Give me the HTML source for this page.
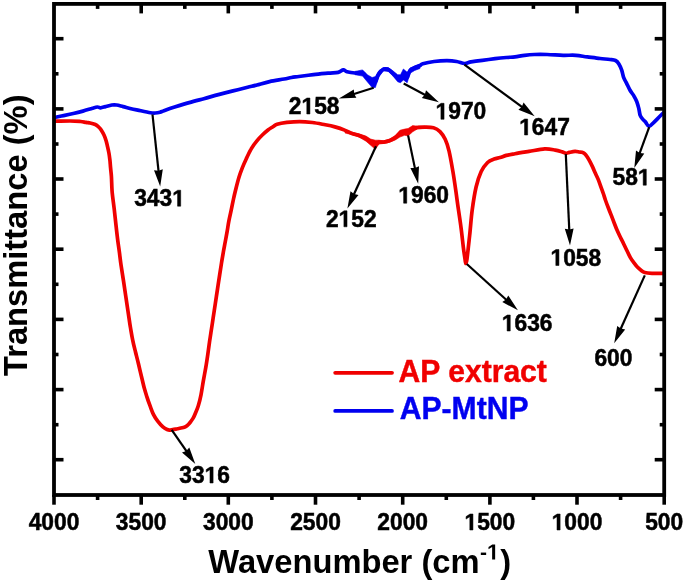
<!DOCTYPE html>
<html><head><meta charset="utf-8"><style>
html,body{margin:0;padding:0;background:#fff;}
svg{display:block;will-change:transform;}
text{font-family:"Liberation Sans",sans-serif;font-weight:bold;}
.t{font-size:22.8px;fill:#000;stroke:#000;stroke-width:0.5px;}
.lg{font-size:28.8px;}
.ax{font-size:32.7px;fill:#000;}
.sup{font-size:21px;}
</style></head><body>
<svg width="685" height="583" viewBox="0 0 685 583">
<rect x="0" y="0" width="685" height="583" fill="#fff"/>
<path d="M54.0,121.2 C56.7,121.2 65.6,121.0 70.0,121.0 C74.4,121.0 77.9,121.3 80.6,121.5 C83.3,121.7 84.5,122.2 86.1,122.4 C87.7,122.7 88.6,122.7 90.1,123.0 C91.6,123.3 93.9,123.9 95.3,124.5 C96.7,125.1 97.4,125.8 98.4,126.8 C99.4,127.8 100.6,129.0 101.5,130.4 C102.4,131.8 103.2,133.3 104.0,135.0 C104.8,136.7 105.5,138.7 106.1,140.7 C106.7,142.7 107.1,144.8 107.6,146.9 C108.1,149.0 108.6,151.3 109.0,153.5 C109.4,155.7 109.6,157.6 109.9,160.0 C110.2,162.4 110.3,165.3 110.6,168.0 C110.8,170.7 111.1,172.2 111.4,176.3 C111.7,180.4 111.7,187.2 112.2,192.6 C112.7,198.0 113.6,203.5 114.2,208.9 C114.8,214.3 115.4,219.8 116.0,225.2 C116.6,230.6 117.3,236.9 117.9,241.5 C118.5,246.1 119.0,249.0 119.5,253.0 C120.0,257.0 120.4,260.9 121.1,265.5 C121.8,270.1 122.7,275.8 123.5,280.9 C124.3,286.0 125.0,291.2 125.8,296.4 C126.6,301.6 127.3,306.8 128.1,311.9 C128.9,317.0 129.6,322.6 130.4,327.3 C131.2,332.0 131.8,336.0 132.7,340.1 C133.5,344.2 134.5,348.0 135.5,352.0 C136.5,356.0 137.4,359.3 138.5,364.0 C139.6,368.7 141.3,375.9 142.3,380.0 C143.3,384.1 143.6,385.8 144.4,388.6 C145.2,391.5 146.1,394.2 147.0,397.1 C147.9,400.0 148.9,402.8 150.0,405.7 C151.1,408.6 152.1,411.7 153.4,414.3 C154.7,416.9 156.1,419.0 157.7,421.1 C159.3,423.2 161.3,425.5 162.9,426.9 C164.5,428.3 166.0,429.0 167.1,429.5 C168.2,430.0 168.6,430.1 169.5,430.1 C170.4,430.1 171.5,429.8 172.8,429.6 C174.1,429.4 175.9,429.0 177.5,428.7 C179.1,428.4 180.8,428.1 182.2,427.8 C183.6,427.5 184.6,427.3 185.7,426.7 C186.8,426.1 187.7,425.2 188.6,424.3 C189.5,423.4 190.1,422.5 190.9,421.4 C191.7,420.3 192.5,419.3 193.3,417.9 C194.1,416.5 194.7,415.0 195.5,413.0 C196.3,411.0 197.4,408.8 198.3,405.8 C199.2,402.8 200.2,398.9 201.0,394.8 C201.8,390.7 202.5,385.7 203.3,381.1 C204.1,376.5 205.0,372.0 205.8,367.4 C206.6,362.8 207.3,357.9 207.9,353.7 C208.5,349.5 209.0,345.5 209.5,342.0 C210.0,338.5 210.3,336.8 210.9,332.8 C211.5,328.9 212.4,323.2 213.1,318.3 C213.8,313.4 214.6,308.6 215.3,303.7 C216.0,298.8 216.8,294.0 217.5,289.1 C218.2,284.2 219.0,279.0 219.7,274.6 C220.4,270.2 220.9,266.8 221.5,263.0 C222.1,259.2 222.8,255.4 223.4,251.8 C224.0,248.2 224.7,244.9 225.3,241.5 C225.9,238.1 226.6,234.6 227.2,231.2 C227.8,227.8 228.2,224.3 228.9,220.9 C229.6,217.5 230.3,214.2 231.1,210.6 C231.9,206.9 232.7,202.8 233.5,199.0 C234.3,195.2 235.2,191.6 236.1,188.0 C237.0,184.4 237.9,180.8 238.9,177.5 C239.9,174.2 241.1,171.0 242.3,167.9 C243.5,164.8 244.7,162.2 246.2,159.0 C247.7,155.8 249.4,151.9 251.2,148.9 C252.9,145.9 254.8,143.4 256.7,141.1 C258.6,138.8 260.4,136.8 262.3,135.0 C264.2,133.2 266.2,131.4 268.0,130.0 C269.8,128.6 271.8,127.5 273.3,126.5 C274.8,125.5 274.9,125.0 277.1,124.3 C279.4,123.6 283.1,122.9 286.8,122.4 C290.6,122.0 295.3,121.6 299.6,121.6 C303.9,121.6 308.1,122.0 312.4,122.5 C316.7,123.0 321.6,124.1 325.3,124.8 C329.1,125.5 331.7,126.0 334.9,126.9 C338.1,127.8 341.8,129.0 344.6,130.1 C347.5,131.2 349.6,132.5 352.0,133.4 C354.4,134.3 356.7,134.6 359.0,135.5 C361.3,136.4 364.1,137.5 366.0,138.6 C367.9,139.7 369.1,141.2 370.7,142.2 C372.3,143.2 374.0,144.7 375.4,144.7 C376.8,144.7 377.5,142.5 378.9,142.1 C380.2,141.7 381.8,142.3 383.5,142.1 C385.2,141.9 387.4,141.4 389.4,140.7 C391.3,140.0 393.4,139.0 395.2,137.8 C396.9,136.6 398.3,134.6 399.9,133.7 C401.5,132.8 403.2,132.4 404.6,132.2 C406.0,131.9 406.8,132.8 408.1,132.2 C409.5,131.6 411.1,129.5 412.7,128.7 C414.2,127.9 415.3,127.8 417.4,127.5 C419.4,127.2 422.3,127.2 425.0,127.2 C427.7,127.2 431.0,127.1 433.5,127.8 C436.0,128.5 438.1,129.7 440.0,131.6 C441.9,133.5 443.7,136.1 445.2,139.3 C446.7,142.5 447.7,145.5 449.0,150.9 C450.3,156.3 451.7,164.6 452.9,171.5 C454.1,178.4 455.1,185.7 456.0,192.1 C456.9,198.5 457.6,204.1 458.5,210.1 C459.4,216.1 460.3,222.2 461.1,228.2 C461.9,234.2 462.6,241.1 463.2,246.2 C463.8,251.3 464.6,256.1 465.0,259.0 C465.4,261.9 465.5,263.5 465.8,263.5 C466.1,263.5 466.4,263.6 467.0,259.0 C467.6,254.4 468.7,244.1 469.6,235.9 C470.5,227.8 471.1,218.2 472.2,210.1 C473.3,201.9 474.6,193.4 476.1,187.0 C477.6,180.6 479.3,175.6 481.2,171.5 C483.1,167.4 485.5,164.6 487.6,162.5 C489.8,160.4 492.0,159.9 494.1,159.1 C496.2,158.3 498.0,158.2 500.0,157.6 C502.0,157.0 503.8,156.1 506.3,155.4 C508.8,154.8 511.2,154.4 515.0,153.7 C518.8,153.0 524.0,152.2 529.0,151.4 C534.0,150.6 540.4,149.1 544.8,148.9 C549.2,148.7 552.4,149.6 555.3,150.1 C558.2,150.6 560.5,151.4 562.3,151.9 C564.0,152.4 564.6,153.2 565.8,153.3 C567.0,153.4 567.8,152.7 569.3,152.4 C570.8,152.1 573.4,151.5 575.0,151.4 C576.6,151.3 578.0,151.8 579.1,152.0 C580.2,152.2 580.9,152.0 581.8,152.3 C582.7,152.6 583.7,152.9 584.6,153.7 C585.5,154.5 586.4,155.7 587.3,157.1 C588.2,158.5 589.2,160.2 590.1,161.9 C591.0,163.6 591.9,165.5 592.8,167.4 C593.7,169.3 594.6,171.6 595.5,173.6 C596.4,175.6 597.4,177.4 598.3,179.7 C599.2,182.0 600.2,184.9 601.0,187.2 C601.8,189.5 602.6,191.4 603.3,193.5 C604.0,195.6 604.6,197.7 605.4,200.0 C606.2,202.3 607.2,205.0 608.2,207.5 C609.2,210.0 610.1,212.4 611.1,214.9 C612.1,217.4 613.0,220.0 614.0,222.5 C615.0,225.0 615.9,227.5 617.0,230.0 C618.1,232.5 619.4,235.2 620.5,237.5 C621.6,239.8 622.6,241.6 623.6,243.7 C624.6,245.8 625.5,247.7 626.6,250.0 C627.7,252.3 629.2,255.5 630.4,257.6 C631.6,259.7 632.8,261.2 634.0,262.8 C635.2,264.4 636.4,266.1 637.6,267.3 C638.8,268.6 639.8,269.4 641.0,270.3 C642.2,271.2 643.0,272.0 644.8,272.5 C646.6,273.0 648.8,273.2 652.0,273.3 C655.2,273.4 662.0,273.3 664.0,273.3" fill="none" stroke="#f00000" stroke-width="3.7" stroke-linejoin="round" stroke-linecap="butt"/>
<path d="M54.0,117.5 C54.3,117.5 54.0,117.5 55.6,117.2 C57.2,116.9 60.7,116.2 63.6,115.6 C66.5,115.0 70.1,114.2 73.3,113.5 C76.5,112.8 79.7,112.0 82.9,111.1 C86.1,110.2 90.1,108.9 92.5,108.2 C94.9,107.5 96.1,107.1 97.4,107.0 C98.8,106.9 99.3,107.9 100.6,107.8 C101.9,107.7 103.5,107.1 105.4,106.6 C107.3,106.1 109.9,105.3 111.8,105.0 C113.7,104.7 114.7,104.7 116.6,105.0 C118.5,105.3 120.7,106.0 123.1,106.6 C125.5,107.2 128.2,108.0 131.1,108.7 C134.0,109.4 137.5,110.0 140.7,110.7 C143.9,111.4 148.0,112.3 150.4,112.7 C152.8,113.1 153.6,113.1 155.2,113.0 C156.8,112.9 158.5,112.6 160.0,112.2 C161.5,111.8 161.6,111.6 164.0,110.7 C166.4,109.8 170.4,108.3 174.6,107.0 C178.8,105.7 184.3,104.0 189.2,102.6 C194.1,101.2 198.9,100.0 203.8,98.7 C208.7,97.4 213.5,95.9 218.4,94.6 C223.3,93.3 228.1,92.1 233.0,90.9 C237.9,89.7 243.6,88.3 247.6,87.3 C251.6,86.3 253.3,86.0 257.0,85.0 C260.7,84.0 265.1,82.6 269.6,81.6 C274.1,80.6 280.6,79.7 284.2,79.0 C287.8,78.3 289.1,77.9 291.5,77.5 C293.9,77.1 295.2,77.0 298.8,76.5 C302.4,76.0 308.5,75.2 313.4,74.6 C318.3,74.0 323.9,73.5 328.0,73.1 C332.1,72.7 335.6,72.9 338.2,72.4 C340.8,71.9 341.8,70.0 343.3,69.9 C344.8,69.8 345.1,71.2 347.0,71.7 C348.9,72.2 352.4,72.8 355.0,73.0 C357.6,73.2 360.6,72.1 362.6,73.0 C364.7,73.9 365.7,76.6 367.3,78.2 C368.9,79.8 370.8,81.9 372.1,82.5 C373.5,83.1 374.3,83.4 375.4,82.0 C376.5,80.6 377.3,76.1 378.7,74.0 C380.1,71.9 381.9,70.0 383.5,69.2 C385.1,68.5 386.6,68.8 388.2,69.5 C389.8,70.2 391.4,72.0 393.0,73.5 C394.6,75.0 396.4,77.3 397.7,78.2 C398.9,79.1 399.6,79.3 400.5,78.7 C401.4,78.1 402.3,74.7 403.4,74.5 C404.5,74.3 406.1,78.2 407.2,77.5 C408.3,76.8 408.7,72.3 410.0,70.6 C411.3,68.9 413.1,68.3 414.8,67.5 C416.5,66.7 418.7,66.1 420.0,65.5 C421.3,64.9 420.4,64.5 422.8,63.8 C425.2,63.1 430.1,62.0 434.1,61.5 C438.1,61.0 443.1,60.7 446.9,60.7 C450.6,60.7 453.7,61.0 456.6,61.5 C459.6,62.0 462.2,63.4 464.6,63.5 C467.0,63.6 468.1,62.4 471.0,61.9 C473.9,61.4 478.3,60.8 482.3,60.3 C486.3,59.8 491.1,59.2 495.1,58.7 C499.1,58.2 503.1,57.8 506.4,57.5 C509.7,57.2 512.0,57.3 515.0,56.9 C518.0,56.5 521.4,55.7 524.6,55.3 C527.8,54.9 530.5,54.6 534.3,54.5 C538.0,54.4 542.3,54.4 547.1,54.5 C551.9,54.6 558.4,55.2 563.2,55.3 C568.0,55.4 572.0,55.0 576.0,55.3 C580.0,55.6 583.3,56.4 587.3,56.9 C591.3,57.4 596.3,58.1 600.1,58.5 C603.9,58.9 607.4,59.2 610.0,59.5 C612.6,59.8 614.0,59.8 615.5,60.5 C617.0,61.2 617.9,62.3 618.9,63.9 C619.9,65.5 620.9,67.8 621.7,70.1 C622.5,72.4 622.9,75.5 623.7,77.7 C624.5,79.9 625.5,81.0 626.5,83.1 C627.5,85.1 628.6,87.8 629.9,90.0 C631.1,92.2 632.9,94.2 634.0,96.2 C635.1,98.2 636.0,99.7 636.8,101.7 C637.6,103.8 638.2,106.2 638.8,108.5 C639.4,110.8 639.5,113.6 640.2,115.4 C640.9,117.2 642.1,118.3 643.0,119.5 C643.9,120.7 644.7,121.1 645.7,122.3 C646.7,123.5 647.7,126.4 649.1,126.4 C650.5,126.4 652.2,123.9 653.9,122.3 C655.6,120.7 657.7,118.5 659.4,116.8 C661.1,115.1 663.2,113.0 664.0,112.2" fill="none" stroke="#0000f0" stroke-width="3.7" stroke-linejoin="round" stroke-linecap="butt"/>
<polygon points="355.0,71.4 362.6,69.9 367.3,74.7 372.1,77.5 375.4,76.6 378.7,70.9 383.5,67.6 388.2,67.6 393.0,70.9 397.7,74.7 400.5,74.7 403.4,69.0 407.2,72.3 410.0,68.0 414.8,66.1 420.0,64.2 420.0,68.5 414.8,70.4 410.0,73.3 407.2,82.8 403.4,79.9 400.5,82.8 397.7,81.8 393.0,76.1 388.2,71.4 383.5,70.9 378.7,77.1 375.4,87.5 372.1,87.5 367.3,81.8 362.6,76.1 355.0,74.7" fill="#0000f0" stroke="#0000f0" stroke-width="0.6" stroke-linejoin="round"/>
<polygon points="345.0,130.9 352.0,132.1 359.0,133.8 366.0,136.1 370.7,139.1 375.4,140.2 378.9,140.2 383.5,140.8 389.4,139.1 395.2,135.6 399.9,130.3 404.6,129.1 408.1,128.5 412.7,125.6 417.4,126.2 425.0,126.2 425.0,128.3 417.4,128.9 412.7,131.8 408.1,135.9 404.6,135.3 399.9,137.1 395.2,140.0 389.4,142.3 383.5,143.5 378.9,144.1 375.4,149.3 370.7,145.3 366.0,141.2 359.0,137.1 352.0,134.7 345.0,133.0" fill="#f00000" stroke="#f00000" stroke-width="0.6" stroke-linejoin="round"/>
<line x1="152.5" y1="114.5" x2="158.6" y2="171.7" stroke="#000" stroke-width="2.2"/><polygon points="160.2,186.6 154.0,170.2 158.5,170.7 162.8,169.2" fill="#000"/>
<line x1="171.7" y1="429.8" x2="186.8" y2="451.7" stroke="#000" stroke-width="2.2"/><polygon points="195.3,464.1 182.0,452.6 186.2,450.9 189.3,447.6" fill="#000"/>
<line x1="373.7" y1="87.8" x2="353.2" y2="94.2" stroke="#000" stroke-width="2.2"/><polygon points="338.9,98.6 353.8,89.4 354.2,93.9 356.4,97.8" fill="#000"/>
<line x1="376.0" y1="146.2" x2="353.6" y2="195.0" stroke="#000" stroke-width="2.2"/><polygon points="347.4,208.6 350.5,191.3 354.1,194.1 358.5,195.0" fill="#000"/>
<line x1="403.7" y1="83.5" x2="425.7" y2="95.2" stroke="#000" stroke-width="2.2"/><polygon points="438.9,102.2 421.8,98.1 424.8,94.7 426.0,90.3" fill="#000"/>
<line x1="408.1" y1="135.4" x2="415.1" y2="169.1" stroke="#000" stroke-width="2.2"/><polygon points="418.2,183.8 410.4,168.1 414.9,168.1 419.0,166.3" fill="#000"/>
<line x1="464.4" y1="64.6" x2="522.6" y2="107.3" stroke="#000" stroke-width="2.2"/><polygon points="534.7,116.2 518.4,109.7 521.8,106.7 523.6,102.6" fill="#000"/>
<line x1="466.8" y1="264.0" x2="506.8" y2="300.2" stroke="#000" stroke-width="2.2"/><polygon points="517.9,310.3 502.3,302.1 506.0,299.6 508.3,295.6" fill="#000"/>
<line x1="565.8" y1="154.1" x2="569.3" y2="230.6" stroke="#000" stroke-width="2.2"/><polygon points="570.0,245.6 564.8,228.8 569.3,229.6 573.6,228.4" fill="#000"/>
<line x1="649.2" y1="127.1" x2="639.4" y2="153.8" stroke="#000" stroke-width="2.2"/><polygon points="634.3,167.9 636.0,150.4 639.8,152.9 644.3,153.4" fill="#000"/>
<line x1="644.8" y1="275.4" x2="620.4" y2="329.5" stroke="#000" stroke-width="2.2"/><polygon points="614.2,343.2 617.2,325.9 620.8,328.6 625.2,329.5" fill="#000"/>
<rect x="54" y="3.9" width="610.2" height="491.1" fill="none" stroke="#000" stroke-width="3.8"/>
<line x1="54" y1="38.7" x2="63.5" y2="38.7" stroke="#000" stroke-width="3.6"/>
<line x1="664.2" y1="38.7" x2="654.7" y2="38.7" stroke="#000" stroke-width="3.6"/>
<line x1="54" y1="108.9" x2="63.5" y2="108.9" stroke="#000" stroke-width="3.6"/>
<line x1="664.2" y1="108.9" x2="654.7" y2="108.9" stroke="#000" stroke-width="3.6"/>
<line x1="54" y1="179.0" x2="63.5" y2="179.0" stroke="#000" stroke-width="3.6"/>
<line x1="664.2" y1="179.0" x2="654.7" y2="179.0" stroke="#000" stroke-width="3.6"/>
<line x1="54" y1="249.2" x2="63.5" y2="249.2" stroke="#000" stroke-width="3.6"/>
<line x1="664.2" y1="249.2" x2="654.7" y2="249.2" stroke="#000" stroke-width="3.6"/>
<line x1="54" y1="319.4" x2="63.5" y2="319.4" stroke="#000" stroke-width="3.6"/>
<line x1="664.2" y1="319.4" x2="654.7" y2="319.4" stroke="#000" stroke-width="3.6"/>
<line x1="54" y1="389.6" x2="63.5" y2="389.6" stroke="#000" stroke-width="3.6"/>
<line x1="664.2" y1="389.6" x2="654.7" y2="389.6" stroke="#000" stroke-width="3.6"/>
<line x1="54" y1="459.7" x2="63.5" y2="459.7" stroke="#000" stroke-width="3.6"/>
<line x1="664.2" y1="459.7" x2="654.7" y2="459.7" stroke="#000" stroke-width="3.6"/>
<line x1="54" y1="73.8" x2="58.5" y2="73.8" stroke="#000" stroke-width="3.6"/>
<line x1="664.2" y1="73.8" x2="659.7" y2="73.8" stroke="#000" stroke-width="3.6"/>
<line x1="54" y1="144.0" x2="58.5" y2="144.0" stroke="#000" stroke-width="3.6"/>
<line x1="664.2" y1="144.0" x2="659.7" y2="144.0" stroke="#000" stroke-width="3.6"/>
<line x1="54" y1="214.1" x2="58.5" y2="214.1" stroke="#000" stroke-width="3.6"/>
<line x1="664.2" y1="214.1" x2="659.7" y2="214.1" stroke="#000" stroke-width="3.6"/>
<line x1="54" y1="284.3" x2="58.5" y2="284.3" stroke="#000" stroke-width="3.6"/>
<line x1="664.2" y1="284.3" x2="659.7" y2="284.3" stroke="#000" stroke-width="3.6"/>
<line x1="54" y1="354.5" x2="58.5" y2="354.5" stroke="#000" stroke-width="3.6"/>
<line x1="664.2" y1="354.5" x2="659.7" y2="354.5" stroke="#000" stroke-width="3.6"/>
<line x1="54" y1="424.7" x2="58.5" y2="424.7" stroke="#000" stroke-width="3.6"/>
<line x1="664.2" y1="424.7" x2="659.7" y2="424.7" stroke="#000" stroke-width="3.6"/>
<line x1="54.0" y1="495" x2="54.0" y2="504.7" stroke="#000" stroke-width="3.6"/>
<line x1="141.2" y1="495" x2="141.2" y2="504.7" stroke="#000" stroke-width="3.6"/>
<line x1="141.2" y1="3.9" x2="141.2" y2="13.4" stroke="#000" stroke-width="3.6"/>
<line x1="228.3" y1="495" x2="228.3" y2="504.7" stroke="#000" stroke-width="3.6"/>
<line x1="228.3" y1="3.9" x2="228.3" y2="13.4" stroke="#000" stroke-width="3.6"/>
<line x1="315.5" y1="495" x2="315.5" y2="504.7" stroke="#000" stroke-width="3.6"/>
<line x1="315.5" y1="3.9" x2="315.5" y2="13.4" stroke="#000" stroke-width="3.6"/>
<line x1="402.7" y1="495" x2="402.7" y2="504.7" stroke="#000" stroke-width="3.6"/>
<line x1="402.7" y1="3.9" x2="402.7" y2="13.4" stroke="#000" stroke-width="3.6"/>
<line x1="489.9" y1="495" x2="489.9" y2="504.7" stroke="#000" stroke-width="3.6"/>
<line x1="489.9" y1="3.9" x2="489.9" y2="13.4" stroke="#000" stroke-width="3.6"/>
<line x1="577.0" y1="495" x2="577.0" y2="504.7" stroke="#000" stroke-width="3.6"/>
<line x1="577.0" y1="3.9" x2="577.0" y2="13.4" stroke="#000" stroke-width="3.6"/>
<line x1="664.2" y1="495" x2="664.2" y2="504.7" stroke="#000" stroke-width="3.6"/>
<line x1="97.6" y1="495" x2="97.6" y2="500" stroke="#000" stroke-width="3.6"/>
<line x1="97.6" y1="3.9" x2="97.6" y2="8.9" stroke="#000" stroke-width="3.6"/>
<line x1="184.8" y1="495" x2="184.8" y2="500" stroke="#000" stroke-width="3.6"/>
<line x1="184.8" y1="3.9" x2="184.8" y2="8.9" stroke="#000" stroke-width="3.6"/>
<line x1="271.9" y1="495" x2="271.9" y2="500" stroke="#000" stroke-width="3.6"/>
<line x1="271.9" y1="3.9" x2="271.9" y2="8.9" stroke="#000" stroke-width="3.6"/>
<line x1="359.1" y1="495" x2="359.1" y2="500" stroke="#000" stroke-width="3.6"/>
<line x1="359.1" y1="3.9" x2="359.1" y2="8.9" stroke="#000" stroke-width="3.6"/>
<line x1="446.3" y1="495" x2="446.3" y2="500" stroke="#000" stroke-width="3.6"/>
<line x1="446.3" y1="3.9" x2="446.3" y2="8.9" stroke="#000" stroke-width="3.6"/>
<line x1="533.4" y1="495" x2="533.4" y2="500" stroke="#000" stroke-width="3.6"/>
<line x1="533.4" y1="3.9" x2="533.4" y2="8.9" stroke="#000" stroke-width="3.6"/>
<line x1="620.6" y1="495" x2="620.6" y2="500" stroke="#000" stroke-width="3.6"/>
<line x1="620.6" y1="3.9" x2="620.6" y2="8.9" stroke="#000" stroke-width="3.6"/>
<g transform="translate(28.64,530.00) scale(1,1.02)"><text x="0" y="0" class="t">4000</text></g>
<g transform="translate(115.81,530.00) scale(1,1.02)"><text x="0" y="0" class="t">3500</text></g>
<g transform="translate(202.98,530.00) scale(1,1.02)"><text x="0" y="0" class="t">3000</text></g>
<g transform="translate(290.15,530.00) scale(1,1.02)"><text x="0" y="0" class="t">2500</text></g>
<g transform="translate(377.33,530.00) scale(1,1.02)"><text x="0" y="0" class="t">2000</text></g>
<g transform="translate(464.50,530.00) scale(1,1.02)"><text x="0" y="0" class="t"> 500</text><path d="M478 0V1170L140 959V1180L493 1409H759V0Z" transform="translate(0.00,0) scale(0.01113,-0.01113)" fill="#000" stroke="#000" stroke-width="44.9"/></g>
<g transform="translate(551.67,530.00) scale(1,1.02)"><text x="0" y="0" class="t"> 000</text><path d="M478 0V1170L140 959V1180L493 1409H759V0Z" transform="translate(0.00,0) scale(0.01113,-0.01113)" fill="#000" stroke="#000" stroke-width="44.9"/></g>
<g transform="translate(645.18,530.00) scale(1,1.02)"><text x="0" y="0" class="t">500</text></g>
<g transform="translate(134.20,206.20) scale(1,1.02)"><text x="0" y="0" class="t">343 </text><path d="M478 0V1170L140 959V1180L493 1409H759V0Z" transform="translate(38.04,0) scale(0.01113,-0.01113)" fill="#000" stroke="#000" stroke-width="44.9"/></g>
<g transform="translate(179.30,483.00) scale(1,1.02)"><text x="0" y="0" class="t">33 6</text><path d="M478 0V1170L140 959V1180L493 1409H759V0Z" transform="translate(25.36,0) scale(0.01113,-0.01113)" fill="#000" stroke="#000" stroke-width="44.9"/></g>
<g transform="translate(288.80,114.00) scale(1,1.02)"><text x="0" y="0" class="t">2 58</text><path d="M478 0V1170L140 959V1180L493 1409H759V0Z" transform="translate(12.68,0) scale(0.01113,-0.01113)" fill="#000" stroke="#000" stroke-width="44.9"/></g>
<g transform="translate(325.90,226.80) scale(1,1.02)"><text x="0" y="0" class="t">2 52</text><path d="M478 0V1170L140 959V1180L493 1409H759V0Z" transform="translate(12.68,0) scale(0.01113,-0.01113)" fill="#000" stroke="#000" stroke-width="44.9"/></g>
<g transform="translate(435.60,119.30) scale(1,1.02)"><text x="0" y="0" class="t"> 970</text><path d="M478 0V1170L140 959V1180L493 1409H759V0Z" transform="translate(0.00,0) scale(0.01113,-0.01113)" fill="#000" stroke="#000" stroke-width="44.9"/></g>
<g transform="translate(398.30,203.20) scale(1,1.02)"><text x="0" y="0" class="t"> 960</text><path d="M478 0V1170L140 959V1180L493 1409H759V0Z" transform="translate(0.00,0) scale(0.01113,-0.01113)" fill="#000" stroke="#000" stroke-width="44.9"/></g>
<g transform="translate(519.20,135.00) scale(1,1.02)"><text x="0" y="0" class="t"> 647</text><path d="M478 0V1170L140 959V1180L493 1409H759V0Z" transform="translate(0.00,0) scale(0.01113,-0.01113)" fill="#000" stroke="#000" stroke-width="44.9"/></g>
<g transform="translate(501.80,331.00) scale(1,1.02)"><text x="0" y="0" class="t"> 636</text><path d="M478 0V1170L140 959V1180L493 1409H759V0Z" transform="translate(0.00,0) scale(0.01113,-0.01113)" fill="#000" stroke="#000" stroke-width="44.9"/></g>
<g transform="translate(550.50,265.50) scale(1,1.02)"><text x="0" y="0" class="t"> 058</text><path d="M478 0V1170L140 959V1180L493 1409H759V0Z" transform="translate(0.00,0) scale(0.01113,-0.01113)" fill="#000" stroke="#000" stroke-width="44.9"/></g>
<g transform="translate(612.50,185.20) scale(1,1.02)"><text x="0" y="0" class="t">58 </text><path d="M478 0V1170L140 959V1180L493 1409H759V0Z" transform="translate(25.36,0) scale(0.01113,-0.01113)" fill="#000" stroke="#000" stroke-width="44.9"/></g>
<g transform="translate(594.40,365.80) scale(1,1.02)"><text x="0" y="0" class="t">600</text></g>
<line x1="335.2" y1="372.8" x2="392" y2="372.8" stroke="#f00000" stroke-width="3.8" stroke-linecap="round"/>
<line x1="335.2" y1="410.9" x2="392" y2="410.9" stroke="#0000f0" stroke-width="3.8" stroke-linecap="round"/>
<text transform="translate(398.6,382.2) scale(1.045,1.06)" class="lg" fill="#f00000" stroke="#f00000" stroke-width="0.4">AP extract</text>
<text transform="translate(399.8,419) scale(1.045,1.06)" class="lg" fill="#0000f0" stroke="#0000f0" stroke-width="0.4">AP-MtNP</text>
<text x="208.3" y="573.4" class="ax">Wavenumber (cm</text>
<text x="479.9" y="559.4" class="ax" style="font-size:21px">-</text>
<path d="M478 0V1170L140 959V1180L493 1409H759V0Z" transform="translate(487,559.6) scale(0.01074,-0.01074)" fill="#000"/>
<text x="500.3" y="573.4" class="ax">)</text>
<text transform="translate(27.4,376) rotate(-90)" x="0" y="0" class="ax">Transmittance (%)</text>
</svg>
</body></html>
